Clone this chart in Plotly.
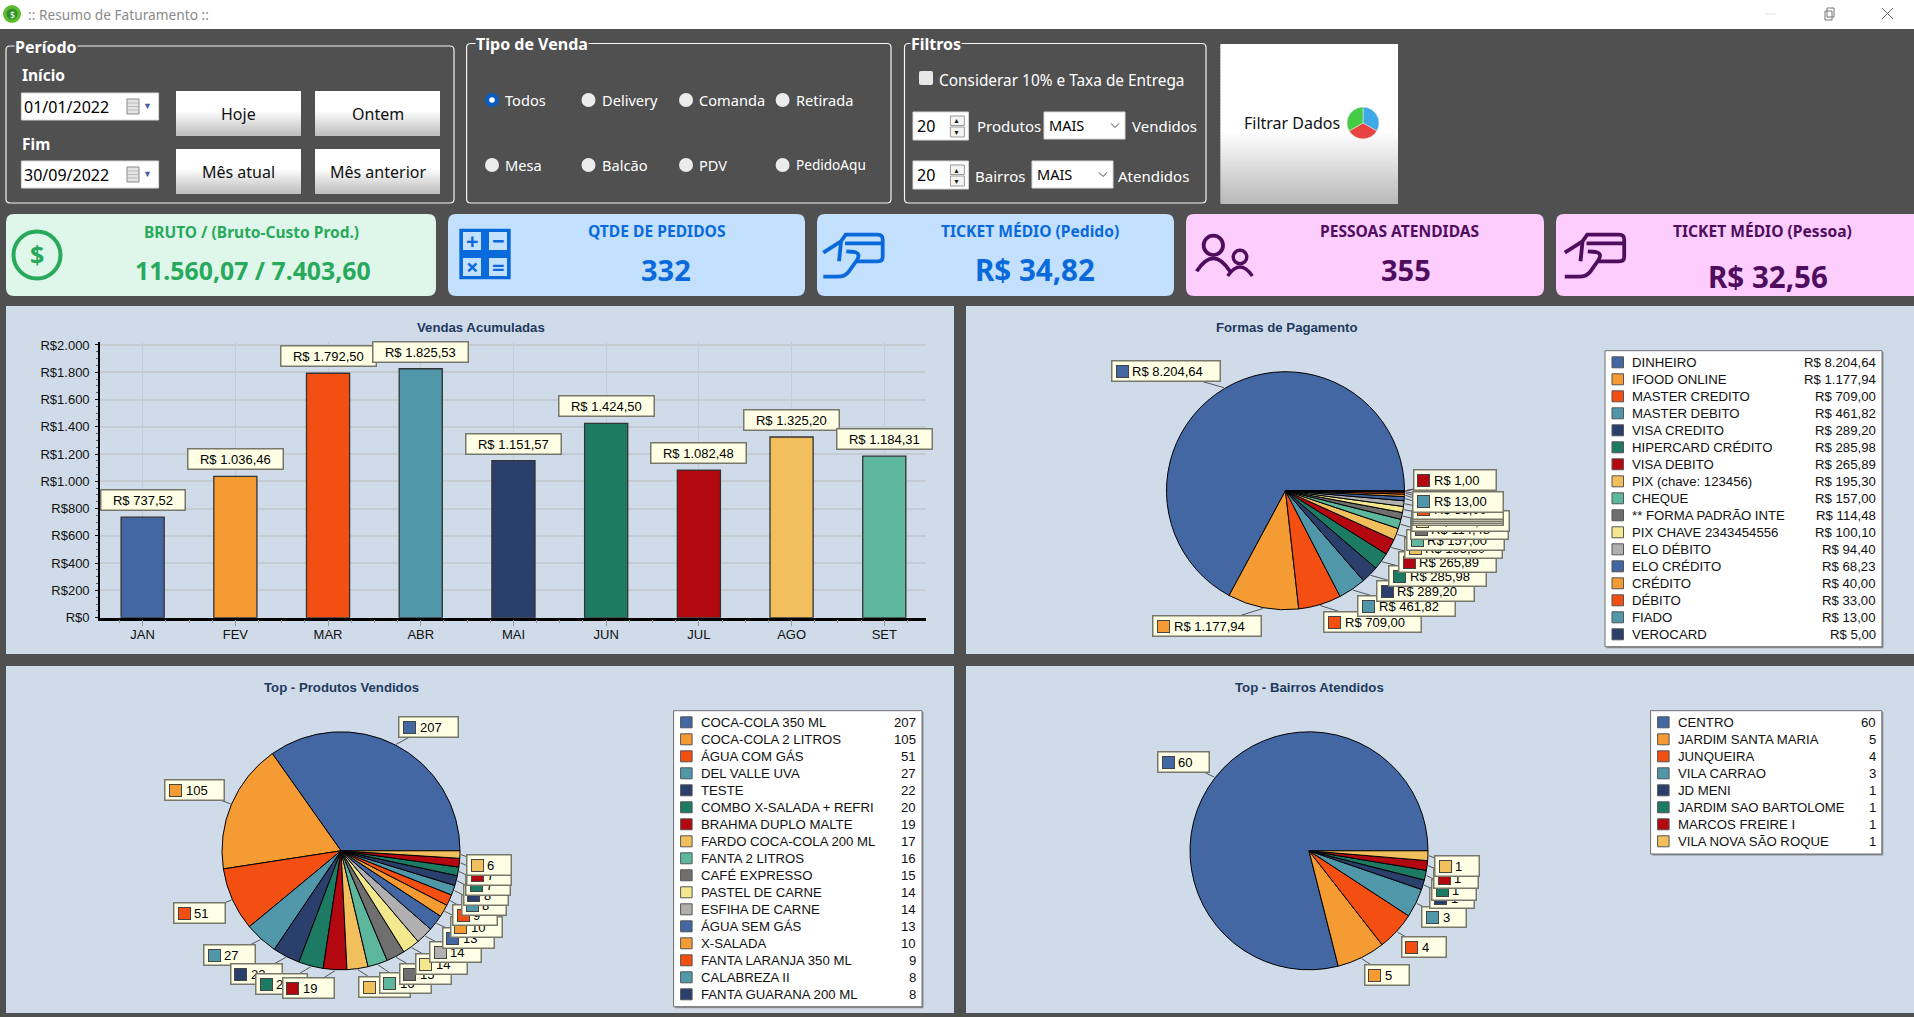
import re
import math
import plotly.graph_objects as go

W, H = 1914, 1017

# ---------- data ----------
MONTHS = ["JAN", "FEV", "MAR", "ABR", "MAI", "JUN", "JUL", "AGO", "SET"]
MONTH_SALES = [737.52, 1036.46, 1792.50, 1825.53, 1151.57, 1424.50, 1082.48, 1325.20, 1184.31]

PAY_NAMES = ["DINHEIRO", "IFOOD ONLINE", "MASTER CREDITO", "MASTER DEBITO", "VISA CREDITO",
             "HIPERCARD CRÉDITO", "VISA DEBITO", "PIX (chave: 123456)", "CHEQUE",
             "** FORMA PADRÃO INTE", "PIX CHAVE 2343454556", "ELO DÉBITO", "ELO CRÉDITO",
             "CRÉDITO", "DÉBITO", "FIADO", "VEROCARD"]
PAY_VALUES = [8204.64, 1177.94, 709.00, 461.82, 289.20, 285.98, 265.89, 195.30, 157.00,
              114.48, 100.10, 94.40, 68.23, 40.00, 33.00, 13.00, 5.00, 4.00, 1.00]

PROD_NAMES = ["COCA-COLA 350 ML", "COCA-COLA 2 LITROS", "ÁGUA COM GÁS", "DEL VALLE UVA", "TESTE",
              "COMBO X-SALADA + REFRI", "BRAHMA DUPLO MALTE", "FARDO COCA-COLA 200 ML",
              "FANTA 2 LITROS", "CAFÉ EXPRESSO", "PASTEL DE CARNE", "ESFIHA DE CARNE",
              "ÁGUA SEM GÁS", "X-SALADA", "FANTA LARANJA 350 ML", "CALABREZA II", "FANTA GUARANA 200 ML"]
PROD_VALUES = [207, 105, 51, 27, 22, 20, 19, 17, 16, 15, 14, 14, 13, 10, 9, 8, 8, 7, 7, 6]

HOOD_NAMES = ["CENTRO", "JARDIM SANTA MARIA", "JUNQUEIRA", "VILA CARRAO", "JD MENI",
              "JARDIM SAO BARTOLOME", "MARCOS FREIRE I", "VILA NOVA SÃO ROQUE"]
HOOD_VALUES = [60, 5, 4, 3, 1, 1, 1, 1]

PALETTE = ["#4367A3", "#F49C33", "#F44F13", "#4F97A9", "#2B3F6D", "#1D7B63", "#B3080F",
           "#F2BF5D", "#5CB79D", "#6F6F6F", "#F3E88D", "#B0B0B0"]

# label centres, in page pixels (the chart library placed these to avoid collisions)
PAY_LABEL_POS = [(1165.6, 371), (1207, 626), (1372.5, 622), (1406.6, 606), (1425.4, 591), (1437.6, 576),
                 (1447.4, 562), (1453.4, 548), (1455, 540), (1459, 529), (1460.7, 521), (1458, 515),
                 (1458, 513), (1458, 511), (1458, 509), (1458, 502), (1454.6, 480), (1454.6, 480), (1454.6, 480)]
PROD_LABEL_POS = [(428.7, 727), (194.7, 790), (199.6, 913), (229.6, 955), (256, 974), (281.7, 984), (308, 988),
                  (384.6, 987), (405, 983), (425, 974), (441, 964), (455.6, 952), (468, 938), (476, 927),
                  (475, 915), (484, 905), (485.6, 895), (488, 885), (488.7, 875), (489, 865)]
HOOD_LABEL_POS = [(1183.3, 762), (1386.5, 975), (1423.6, 947), (1444.3, 917), (1452.2, 898), (1454, 890),
                  (1456, 878), (1457, 866)]

DARK = "#505050"
PANEL = "#CFDBE8"
CREAM = "#FFFFE6"
EDGE = "#77776A"
ARIAL = "Liberation Sans"
UI = "Noto Sans"
CHAR_W = {"R": 9.4, "$": 7.2, " ": 3.6, ".": 3.6, ",": 3.6}


def br(v):
    s = f"{v:,.2f}".replace(",", "X").replace(".", ",").replace("X", ".")
    return "R$ " + s


def text_w(s):
    return sum(CHAR_W.get(c, 7.23) for c in s)


def px(x):
    return x / W


def py(y):
    return 1 - y / H


shapes, annos = [], []


def path_px(d):
    toks = re.findall(r"[A-Za-z]|-?[\d.]+", d)
    out, i = [], 0
    while i < len(toks):
        if toks[i].isalpha():
            out.append(toks[i]); i += 1
        else:
            out.append(f"{px(float(toks[i])):.6f},{py(float(toks[i + 1])):.6f}"); i += 2
    return " ".join(out)


def rect(x0, y0, x1, y1, fill=None, line=None, lw=1, layer="below"):
    shapes.append(dict(type="rect", xref="paper", yref="paper", x0=px(x0), x1=px(x1), y0=py(y1), y1=py(y0),
                       fillcolor=fill or "rgba(0,0,0,0)", layer=layer,
                       line=dict(color=line or "rgba(0,0,0,0)", width=lw if line else 0)))


def rr(x0, y0, x1, y1, r, fill=None, line=None, lw=1):
    d = (f"M {x0 + r} {y0} L {x1 - r} {y0} Q {x1} {y0} {x1} {y0 + r} L {x1} {y1 - r} Q {x1} {y1} {x1 - r} {y1} "
         f"L {x0 + r} {y1} Q {x0} {y1} {x0} {y1 - r} L {x0} {y0 + r} Q {x0} {y0} {x0 + r} {y0} Z")
    shapes.append(dict(type="path", xref="paper", yref="paper", path=path_px(d), layer="below",
                       fillcolor=fill or "rgba(0,0,0,0)",
                       line=dict(color=line or "rgba(0,0,0,0)", width=lw if line else 0)))


def circle(cx, cy, r, fill=None, line=None, lw=1):
    shapes.append(dict(type="circle", xref="paper", yref="paper", x0=px(cx - r), x1=px(cx + r), y0=py(cy + r),
                       y1=py(cy - r), layer="below", fillcolor=fill or "rgba(0,0,0,0)",
                       line=dict(color=line or "rgba(0,0,0,0)", width=lw if line else 0)))


def stroke(d, color, lw):
    shapes.append(dict(type="path", xref="paper", yref="paper", path=path_px(d), layer="below",
                       line=dict(color=color, width=lw)))


def seg(x0, y0, x1, y1, color, lw=1):
    shapes.append(dict(type="line", xref="paper", yref="paper", x0=px(x0), x1=px(x1), y0=py(y0), y1=py(y1),
                       layer="below", line=dict(color=color, width=lw)))


def txt(x, y, s, size=14, color="#000", anchor="left", bold=False, font=UI, bg=None):
    annos.append(dict(xref="paper", yref="paper", x=px(x), y=py(y), text=f"<b>{s}</b>" if bold else s,
                      showarrow=False, xanchor=anchor, yanchor="middle", borderpad=0,
                      font=dict(size=size, color=color, family=font), bgcolor=bg))


def gradient_button(x0, y0, x1, y1, stops):
    n = max(8, int((y1 - y0) / 1.5))
    h = (y1 - y0) / n
    for i in range(n):
        t = (i + .5) / n
        for (a, ca), (b, cb) in zip(stops, stops[1:]):
            if a <= t <= b:
                u = (t - a) / (b - a)
                v = round(ca + (cb - ca) * u)
                break
        rect(x0, y0 + i * h, x1, y0 + (i + 1) * h + 1, fill=f"rgb({v},{v},{v})")


def spin(x0, y0, x1, y1, v):
    rect(x0, y0, x1, y1, fill="#fff", line="#d8d8d8")
    txt(x0 + 3, (y0 + y1) / 2, v, 16)
    mx = x1 - 20
    rect(mx + 2, y0 + 4, x1 - 4, y0 + 13.5, fill="#f4f4f4", line="#999")
    rect(mx + 2, y0 + 15, x1 - 4, y0 + 25, fill="#f4f4f4", line="#999")
    txt(mx + 8, y0 + 9, "▲", 7, "#222", "center")
    txt(mx + 8, y0 + 20, "▼", 7, "#222", "center")


def combo(x0, y0, x1, y1, s):
    rect(x0, y0, x1, y1, fill="#fff", line="#d8d8d8")
    txt(x0 + 4, (y0 + y1) / 2, s, 14.5)
    cx, cy = x1 - 10, (y0 + y1) / 2
    stroke(f"M {cx - 4} {cy - 2} L {cx} {cy + 2} L {cx + 4} {cy - 2}", "#444", 1)


def date_box(y0, s):
    rect(21.4, y0, 158.6, y0 + 27, fill="#fff", line="#d8d8d8")
    txt(23, y0 + 14, s, 16)
    rect(127, y0 + 6, 139, y0 + 21, fill="#e4e4e4", line="#888")
    for k in range(3):
        seg(127, y0 + 10 + 3.5 * k, 139, y0 + 10 + 3.5 * k, "#aaa", .7)
    txt(147, y0 + 13, "▼", 9, "#4a5f9a", "center")


def radio(x, y, s, tx, sel=False, size=14.6):
    if sel:
        circle(x, y, 7, fill="#0a5cc0")
        circle(x, y, 2.8, fill="#fff")
    else:
        circle(x, y, 7, fill="#ececec")
    txt(tx, y, s, size, "#fff")


def group(x0, y0, x1, y1, title, tx):
    rr(x0, y0, x1, y1, 4, line="#f4f4f4", lw=1.2)
    txt(tx, y0 + 1, title, 16, "#fff", bold=True, bg=DARK)


def hand(ox, oy, c):
    p = lambda a: f"{ox + a[0] / 3:.1f} {oy + a[1] / 3:.1f}"
    stroke(f"M {p((25, 92))} L {p((78, 58))} L {p((92, 38))} L {p((188, 38))} Q {p((203, 38))} {p((203, 52))} "
           f"L {p((203, 104))} Q {p((203, 118))} {p((188, 118))} L {p((125, 118))}", c, 3.8)
    stroke(f"M {p((90, 64))} L {p((202, 64))}", c, 3.8)
    stroke(f"M {p((78, 60))} L {p((72, 118))}", c, 3.8)
    stroke(f"M {p((94, 88))} L {p((118, 90))} Q {p((138, 94))} {p((126, 114))} L {p((102, 148))} "
           f"Q {p((90, 164))} {p((68, 164))} L {p((25, 164))}", c, 3.8)


# ---------- window chrome ----------
rect(0, 0, W, 29, fill="#fff")
circle(12, 14, 9, fill="#5DBB2E")
circle(12, 14, 5.5, fill="#2F8F2A")
txt(12, 14, "$", 9, "#fff", "center")
txt(27, 15, ":: Resumo de Faturamento ::", 13.7, "#8a8a8a")
seg(1765, 14, 1776, 14, "#e0e0e0")
rect(1825, 11, 1832, 20, line="#777")
rect(1827, 8, 1834, 17, line="#777")
seg(1882, 8, 1893, 19, "#666")
seg(1882, 19, 1893, 8, "#666")

# ---------- filters ----------
group(6, 46, 454, 203, "Período", 14)
txt(21, 75, "Início", 15.5, "#fff", bold=True)
txt(21, 144, "Fim", 15.5, "#fff", bold=True)
date_box(93, "01/01/2022")
date_box(161, "30/09/2022")
for (x0, y0, x1, y1, s) in [(176, 91, 301, 135, "Hoje"), (315, 91, 440, 135, "Ontem"),
                            (176, 149, 301, 193, "Mês atual"), (315, 149, 440, 193, "Mês anterior")]:
    gradient_button(x0, y0, x1, y1, [(0, 255), (.45, 255), (1, 190)])
    txt((x0 + x1) / 2, (y0 + y1) / 2 + 1, s, 16, "#111", "center")

group(466.6, 43.5, 891, 203, "Tipo de Venda", 475)
radio(492, 100, "Todos", 504, True)
radio(588.5, 100, "Delivery", 601)
radio(686, 100, "Comanda", 698)
radio(782.6, 100, "Retirada", 795)
radio(492, 165, "Mesa", 504)
radio(588.5, 165, "Balcão", 601)
radio(686, 165, "PDV", 698)
radio(782.6, 165, "PedidoAqu", 795, size=13.6)

group(904.5, 43.5, 1206, 203, "Filtros", 910)
rr(919, 71, 933, 85, 2, fill="#e8e8e8")
txt(938, 80, "Considerar 10% e Taxa de Entrega", 15.4, "#fff")
spin(913, 112, 968.4, 140, "20")
spin(913, 161, 968.4, 189, "20")
txt(976, 126, "Produtos", 15, "#fff")
combo(1044, 112, 1125, 139, "MAIS")
txt(1131, 126, "Vendidos", 15, "#fff")
txt(974, 176, "Bairros", 15, "#fff")
combo(1032, 161, 1113, 188, "MAIS")
txt(1117, 176, "Atendidos", 15, "#fff")
gradient_button(1220.5, 44, 1398, 203, [(0, 255), (.55, 255), (1, 185)])
txt(1243, 123, "Filtrar Dados", 16, "#111")

# ---------- KPI cards ----------
GREEN, BLUE, PURPLE = "#28A95C", "#0A6ADB", "#4F0D5E"
LG, LB, LP = "#DFF7EA", "#C3E0FF", "#FDCDFE"
rr(6, 214, 436, 296, 8, fill=LG)
rr(448, 214, 805, 296, 8, fill=LB)
rr(817, 214, 1174, 296, 8, fill=LB)
rr(1186, 214, 1544, 296, 8, fill=LP)
rr(1556, 214, 1925, 296, 8, fill=LP)

txt(251.7, 232, "BRUTO / (Bruto-Custo Prod.)", 15.5, GREEN, "center", True)
txt(253, 270, "11.560,07 / 7.403,60", 24.8, GREEN, "center", True)
txt(656.5, 231, "QTDE DE PEDIDOS", 15.6, BLUE, "center", True)
txt(665.7, 270, "332", 29, BLUE, "center", True)
txt(1029.5, 231, "TICKET MÉDIO (Pedido)", 15.6, BLUE, "center", True)
txt(1035, 270, "R$ 34,82", 29.5, BLUE, "center", True)
txt(1399, 231, "PESSOAS ATENDIDAS", 15.6, PURPLE, "center", True)
txt(1406, 270, "355", 29, PURPLE, "center", True)
txt(1762, 231, "TICKET MÉDIO (Pessoa)", 15.6, PURPLE, "center", True)
txt(1768, 276, "R$ 32,56", 29.5, PURPLE, "center", True)

# icons
circle(37, 255, 23.5, line=GREEN, lw=4)
txt(37, 254, "$", 25, GREEN, "center", True)
rect(459.3, 228.7, 510.7, 279.3, fill=BLUE)
for cx, cy, g in [(472, 241, "+"), (498, 241, "−"), (472, 267, "×"), (498, 267, "=")]:
    rect(cx - 9, cy - 9, cx + 9, cy + 9, fill=LB)
    txt(cx, cy - 1, g, 22, BLUE, "center", True)
hand(815, 222, BLUE)
hand(1556.5, 222, PURPLE)
circle(1185 + 85 / 3, 222 + 70 / 3, 9.7, line=PURPLE, lw=3.8)
circle(1185 + 165 / 3, 222 + 105 / 3, 6.8, line=PURPLE, lw=3.4)
stroke(f"M {1185 + 35 / 3} {222 + 148 / 3} Q {1185 + 85 / 3} {222 + 70 / 3} {1185 + 135 / 3} {222 + 148 / 3}", PURPLE, 3.8)
stroke(f"M {1185 + 128 / 3} {222 + 162 / 3} Q {1185 + 165 / 3} {222 + 108 / 3} {1185 + 202 / 3} {222 + 162 / 3}", PURPLE, 3.4)

# ---------- chart panels ----------
rect(6, 306, 954, 654, fill=PANEL)
rect(966, 306, W, 654, fill=PANEL)
rect(6, 666, 954, 1013, fill=PANEL)
rect(966, 666, W, 1013, fill=PANEL)
TITLE_C = "#1F3A60"
txt(480.7, 327, "Vendas Acumuladas", 13.2, TITLE_C, "center", True, ARIAL)
txt(1286, 327, "Formas de Pagamento", 13.2, TITLE_C, "center", True, ARIAL)
txt(341.7, 687, "Top - Produtos Vendidos", 13.2, TITLE_C, "center", True, ARIAL)
txt(1309, 687, "Top - Bairros Atendidos", 13.2, TITLE_C, "center", True, ARIAL)

fig = go.Figure()

# bars
colors = [PALETTE[i % len(PALETTE)] for i in range(len(MONTHS))]
fig.add_trace(go.Bar(x=list(range(len(MONTHS))), y=MONTH_SALES, width=.465,
                     marker=dict(color=colors, line=dict(color="#333", width=1.3)), hoverinfo="skip"))
for i, v in enumerate(MONTH_SALES):
    annos.append(dict(xref="x", yref="y", x=i, y=v, yshift=17, text=br(v), showarrow=False, xanchor="center", yanchor="middle",
                      width=text_w(br(v)) + 23, height=19, bgcolor=CREAM, bordercolor=EDGE, borderwidth=1.5, borderpad=0,
                      font=dict(size=13, color="#000", family=ARIAL)))


def pie_chart(values, cx, cy, r, label_pos, fmt):
    tot = sum(values)
    # plotly ends the first slice on `rotation` when running counterclockwise
    fig.add_trace(go.Pie(values=values, sort=False, direction="counterclockwise", rotation=90 - 360 * values[0] / tot,
                         textinfo="none", hoverinfo="skip", showlegend=False,
                         marker=dict(colors=[PALETTE[i % 12] for i in range(len(values))], line=dict(color="#000", width=1)),
                         domain=dict(x=[px(cx - r), px(cx + r)], y=[py(cy + r), py(cy - r)])))
    acc = 0
    for i, v in enumerate(values):
        ang = (acc + v / 2) / tot * 2 * math.pi
        acc += v
        ex, ey = cx + (r + 1) * math.cos(ang), cy - (r + 1) * math.sin(ang)
        lx, ly = label_pos[i]
        seg(ex, ey, lx, ly, "#555", 1)
        s = fmt(v)
        w = text_w(s) + 36
        box = dict(xref="paper", yref="paper", x=px(lx), y=py(ly), showarrow=False, xanchor="center", yanchor="middle", borderpad=0)
        annos.append({**box, "text": " ", "width": w, "height": 19, "bgcolor": CREAM, "bordercolor": EDGE, "borderwidth": 1.5})
        col = PALETTE[i % 12]
        annos.append({**box, "x": px(lx - w / 2 + 10), "text": " ", "width": 11, "height": 11, "bgcolor": col, "bordercolor": "#444", "borderwidth": 1})
        annos.append({**box, "x": px(lx - w / 2 + 19), "xanchor": "left", "text": s, "font": dict(size=13, color="#000", family=ARIAL)})


pie_chart(PAY_VALUES, 1285.5, 490.7, 119, PAY_LABEL_POS, br)
pie_chart(PROD_VALUES, 341, 850.8, 119, PROD_LABEL_POS, str)
pie_chart(HOOD_VALUES, 1309, 850.8, 119, HOOD_LABEL_POS, str)


def legend(x0, x1, y0, y1, names, values, fmt):
    rect(x0 + 1.5, y0 + 1.5, x1 + 1.5, y1 + 1.5, fill="#8a8f96")
    rect(x0, y0, x1, y1, fill="#fff", line="#6f6f6f", lw=1)
    for i, (n, v) in enumerate(zip(names, values)):
        yy = y0 + 11.6 + 17 * i
        rect(x0 + 7, yy - 5.5, x0 + 18.5, yy + 5.5, fill=PALETTE[i % 12], line="#555", lw=1)
        txt(x0 + 26, yy, n, 13.2, "#111", "left", False, ARIAL)
        txt(x1 - 5, yy, fmt(v), 13.2, "#111", "right", False, ARIAL)


legend(1605, 1882, 350.7, 646.7, PAY_NAMES, PAY_VALUES, br)
legend(673.6, 922, 710.7, 1006.7, PROD_NAMES, PROD_VALUES, str)
legend(1650.6, 1881.8, 710.7, 854, HOOD_NAMES, HOOD_VALUES, str)

# filter-button icon
fig.add_trace(go.Pie(values=[1, 1, 1], sort=False, direction="clockwise", rotation=0, textinfo="none", hoverinfo="skip", showlegend=False,
                     marker=dict(colors=["#3FA9E8", "#E84343", "#44CC44"], line=dict(color="#eee", width=.5)),
                     domain=dict(x=[px(1347), px(1379)], y=[py(139), py(107)])))

fig.update_layout(
    width=W, height=H, autosize=False, margin=dict(l=0, r=0, t=0, b=0, pad=0, autoexpand=False),
    paper_bgcolor=DARK, plot_bgcolor="rgba(0,0,0,0)", showlegend=False, separators=",.",
    shapes=shapes, annotations=annos,
    xaxis=dict(domain=[px(100), px(926)], range=[-.46, 8.45], tickmode="array", tickvals=list(range(len(MONTHS))), ticktext=MONTHS,
               tickfont=dict(size=13, family=ARIAL, color="#111"), showgrid=True, gridcolor="#C5CBD2", gridwidth=1.4,
               ticks="outside", ticklen=6, tickcolor="#999", ticklabelstandoff=-3, showline=True, linecolor="#000", linewidth=2.5, zeroline=False,
               minor=dict(tickmode="array", tickvals=[-.5 + .25 * k for k in range(37)], ticks="outside", ticklen=3, tickcolor="#999", showgrid=False),
               fixedrange=True),
    yaxis=dict(domain=[py(617.7), py(341.7)], range=[0, 2024], tick0=0, dtick=200, tickprefix="R$", tickformat=",d",
               tickfont=dict(size=13, family=ARIAL, color="#111"), showgrid=True, gridcolor="#C5CBD2", gridwidth=1.6,
               ticks="outside", ticklen=3, tickcolor="#111", ticklabelstandoff=3, showline=True, linecolor="#000", linewidth=1.6, zeroline=False,
               minor=dict(dtick=50, ticks="outside", ticklen=2, tickcolor="#555", showgrid=False),
               fixedrange=True),
)

fig.write_html("out.html", config={"displayModeBar": False},
               post_script="document.body.style.margin='0';document.body.style.overflow='hidden';")
